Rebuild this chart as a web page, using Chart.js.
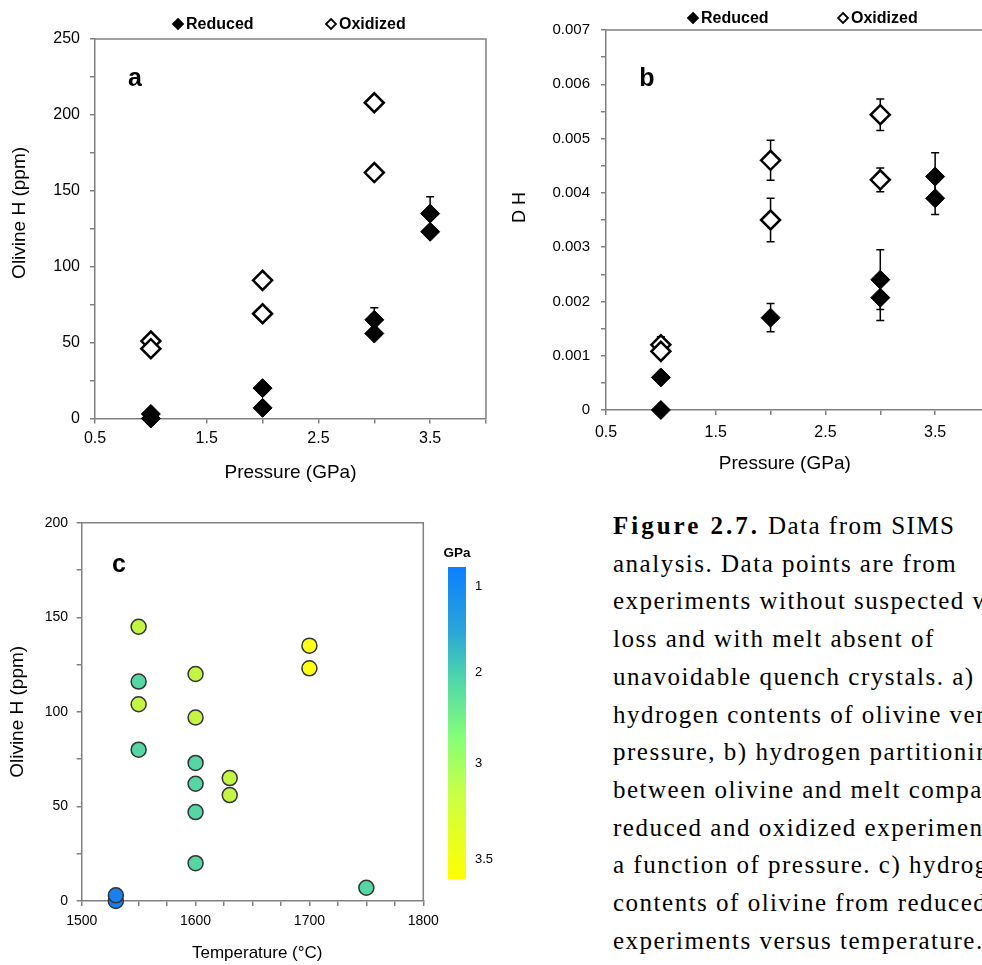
<!DOCTYPE html>
<html>
<head>
<meta charset="UTF-8">
<title>Olivine H</title>
<script src="https://cdn.jsdelivr.net/npm/chart.js@4.4.0/dist/chart.umd.min.js"></script>
<style>
	html, body {margin:0; padding:0; background:#fff; overflow:hidden;}
	body {width:982px; height:965px; position:relative;}
	canvas {position:absolute; display:block;}
	#caption {position:absolute; left:613px; top:507px; width:369px; overflow:hidden;
		font-family:'Liberation Serif', serif; font-size:25px; letter-spacing:1.5px;
		line-height:37.7px; color:#000; white-space:nowrap;}
	#caption b {letter-spacing:3px;}
</style>
</head>
<body>
	<canvas id="chartA" width="500" height="490" style="left:0;top:0"></canvas>
	<canvas id="chartB" width="520" height="490" style="left:500px;top:0"></canvas>
	<canvas id="chartC" width="600" height="475" style="left:0;top:490px"></canvas>
	<div id="caption">
		<div><b>Figure 2.7.</b> Data from SIMS</div>
		<div>analysis. Data points are from</div>
		<div>experiments without suspected water</div>
		<div>loss and with melt absent of</div>
		<div>unavoidable quench crystals. a)</div>
		<div>hydrogen contents of olivine versus</div>
		<div>pressure, b) hydrogen partitioning</div>
		<div>between olivine and melt comparing</div>
		<div>reduced and oxidized experiments as</div>
		<div>a function of pressure. c) hydrogen</div>
		<div>contents of olivine from reduced</div>
		<div>experiments versus temperature.</div>
	</div>
<script>
	// --- a) olivine H vs pressure
	const pressRedA = [1, 1, 2, 2, 3, 3, 3.5, 3.5];
	const olivRedA = [3, 0, 20, 7, 65, 56, 135, 123];
	const olivRedErrA = [0, 0, 0, 0, 8, 0, 11, 0];
	const pressOxA = [1, 1, 2, 2, 3, 3];
	const olivOxA = [51, 46, 91, 69, 208, 162];
	const olivOxErrA = [0, 0, 0, 0, 0, 0];

	// --- b) D H vs pressure
	const pressRedB = [1, 1, 2, 3, 3, 3.5, 3.5];
	const dRedB = [0.0006, 0, 0.0017, 0.0024, 0.00207, 0.0043, 0.0039];
	const dRedErrB = [0, 0, 0.00026, 0.00055, 0.00042, 0.00044, 0.0003];
	const pressOxB = [1, 1, 2, 2, 3, 3];
	const dOxB = [0.0012, 0.00108, 0.0046, 0.0035, 0.00544, 0.00424];
	const dOxErrB = [0.00015, 0.0001, 0.00037, 0.0004, 0.00029, 0.00022];

	// --- c) olivine H vs temperature, coloured by pressure
	const tempC = [1530, 1530, 1550, 1550, 1550, 1550, 1600, 1600, 1600, 1600, 1600, 1600, 1630, 1630, 1700, 1700, 1750];
	const olivC = [0, 3, 145, 116, 104, 80, 120, 97, 73, 62, 47, 20, 65, 56, 135, 123, 7];
	const gpaC = [1, 1, 3, 2, 3, 2, 3, 3, 2, 2, 2, 2, 3, 3, 3.5, 3.5, 2];
	const cbarLabels = ['1', '2', '3', '3.5'];

	const gpaColor = {1: '#1a80f0', 2: '#55d6a4', 3: '#c4f444', 3.5: '#ffff14'};
	const axisGray = '#808080';

	Chart.defaults.font.family = "'Liberation Sans', Arial, sans-serif";
	Chart.defaults.color = '#000';
	Chart.defaults.animation = false;

	function pts(xs, ys) { return xs.map((x, i) => ({x: x, y: ys[i]})); }

	// frame on top/right + error bars, drawn under the markers
	const behind = {
		id: 'behind',
		beforeDatasetsDraw(chart) {
			const c = chart.ctx, a = chart.chartArea;
			c.save();
			c.strokeStyle = axisGray;
			c.lineWidth = 1.5;
			c.beginPath();
			c.moveTo(a.left, a.top); c.lineTo(a.right, a.top); c.lineTo(a.right, a.bottom);
			c.stroke();
			c.strokeStyle = '#000';
			c.lineWidth = 1.5;
			chart.data.datasets.forEach(ds => {
				if (!ds.errorBars) return;
				ds.data.forEach((p, i) => {
					const e = ds.errorBars[i];
					if (!e) return;
					const x = chart.scales.x.getPixelForValue(p.x);
					const y1 = chart.scales.y.getPixelForValue(p.y - e);
					const y2 = chart.scales.y.getPixelForValue(p.y + e);
					c.beginPath();
					c.moveTo(x, y1); c.lineTo(x, y2);
					c.moveTo(x - 4, y1); c.lineTo(x + 4, y1);
					c.moveTo(x - 4, y2); c.lineTo(x + 4, y2);
					c.stroke();
				});
			});
			c.restore();
		}
	};

	// panel letter, small legend, colour bar
	const extras = {
		id: 'extras',
		afterDraw(chart, args, opts) {
			const c = chart.ctx;
			c.save();
			if (opts.letter) {
				c.font = 'bold 25px ' + Chart.defaults.font.family;
				c.fillStyle = '#000';
				c.textAlign = 'center';
				c.textBaseline = 'middle';
				c.fillText(opts.letter.text, opts.letter.x, opts.letter.y);
			}
			if (opts.legend) {
				c.font = 'bold 16px ' + Chart.defaults.font.family;
				c.textBaseline = 'middle';
				c.textAlign = 'left';
				chart.data.datasets.forEach((ds, i) => {
					const x = opts.legend.x[i], y = opts.legend.y;
					c.beginPath();
					c.moveTo(x, y - 5); c.lineTo(x + 5, y); c.lineTo(x, y + 5); c.lineTo(x - 5, y); c.closePath();
					c.fillStyle = ds.backgroundColor;
					c.fill();
					c.strokeStyle = '#000';
					c.lineWidth = 1.8;
					c.stroke();
					c.fillStyle = '#000';
					c.fillText(ds.label, x + 8, y + 1);
				});
			}
			if (opts.cbar) {
				const b = opts.cbar;
				const g = c.createLinearGradient(0, b.y, 0, b.y + b.h);
				b.stops.forEach(s => g.addColorStop(s[0], s[1]));
				c.fillStyle = g;
				c.fillRect(b.x, b.y, b.w, b.h);
				c.fillStyle = '#000';
				c.font = 'bold 13.5px ' + Chart.defaults.font.family;
				c.textAlign = 'center';
				c.textBaseline = 'middle';
				c.fillText('GPa', b.x + b.w / 2, b.y - 14);
				c.font = '13px ' + Chart.defaults.font.family;
				c.textAlign = 'left';
				cbarLabels.forEach((t, i) => c.fillText(t, b.x + b.w + 9, b.y + b.h * b.pos[i]));
			}
			c.restore();
		}
	};

	function xPress(padTick, titlePad, height, title) {
		return {
			type: 'linear', min: 0.5, max: 4,
			afterFit: s => { s.height = height; },
			border: {color: axisGray, width: 1.5},
			grid: {drawOnChartArea: false, tickLength: 5, color: axisGray, lineWidth: 1.5},
			ticks: {stepSize: 0.5, autoSkip: false, maxRotation: 0, padding: padTick, font: {size: 16},
				callback: v => { const k = Math.round(v * 2); return (k % 2 === 1 && v < 3.9) ? v.toFixed(1) : ''; }},
			title: {display: true, text: title, font: {size: 19}, padding: {top: 0, bottom: titlePad}}
		};
	}

	// a)
	new Chart(document.getElementById('chartA'), {
		type: 'scatter',
		data: {datasets: [
			{label: 'Reduced', data: pts(pressRedA, olivRedA), errorBars: olivRedErrA, clip: false,
				pointStyle: 'rectRot', radius: 9.5, backgroundColor: '#000', borderColor: '#000', borderWidth: 1},
			{label: 'Oxidized', data: pts(pressOxA, olivOxA), errorBars: olivOxErrA, clip: false,
				pointStyle: 'rectRot', radius: 9.5, backgroundColor: '#fff', borderColor: '#000', borderWidth: 2.5}
		]},
		options: {
			responsive: false,
			layout: {padding: {left: 0, top: 39, right: 14, bottom: 0}},
			plugins: {legend: {display: false}, tooltip: {enabled: false},
				extras: {letter: {text: 'a', x: 135, y: 79}, legend: {x: [178, 331], y: 24}}},
			scales: {
				x: xPress(5.5, 5.6, 71.5, 'Pressure (GPa)'),
				y: {
					min: 0, max: 250,
					afterFit: s => { s.width = 95; },
					border: {color: axisGray, width: 1.5},
					grid: {drawOnChartArea: false, tickLength: 5, color: axisGray, lineWidth: 1.5},
					ticks: {stepSize: 25, autoSkip: false, padding: 10, font: {size: 16},
						callback: v => Math.round(v) % 50 === 0 ? String(Math.round(v)) : ''},
					title: {display: true, text: '      Olivine H (ppm)', font: {size: 19}, padding: {top: 8.6, bottom: 0}}
				}
			}
		},
		plugins: [behind, extras]
	});

	// b)
	new Chart(document.getElementById('chartB'), {
		type: 'scatter',
		data: {datasets: [
			{label: 'Reduced', data: pts(pressRedB, dRedB), errorBars: dRedErrB, clip: false,
				pointStyle: 'rectRot', radius: 9.5, backgroundColor: '#000', borderColor: '#000', borderWidth: 1},
			{label: 'Oxidized', data: pts(pressOxB, dOxB), errorBars: dOxErrB, clip: false,
				pointStyle: 'rectRot', radius: 9.5, backgroundColor: '#fff', borderColor: '#000', borderWidth: 2.5}
		]},
		options: {
			responsive: false,
			layout: {padding: {left: 0, top: 30, right: 30, bottom: 0}},
			plugins: {legend: {display: false}, tooltip: {enabled: false},
				extras: {letter: {text: 'b', x: 147, y: 79}, legend: {x: [193, 343], y: 18}}},
			scales: {
				x: xPress(7.5, 14.6, 80, 'Pressure (GPa)     '),
				y: {
					min: 0, max: 0.007,
					afterFit: s => { s.width = 106; },
					border: {color: axisGray, width: 1.5},
					grid: {drawOnChartArea: false, tickLength: 5, color: axisGray, lineWidth: 1.5},
					ticks: {stepSize: 0.0005, autoSkip: false, padding: 11, font: {size: 15},
						callback: v => { const k = Math.round(v * 2000); return k % 2 === 0 ? (k === 0 ? '0' : (k / 2000).toFixed(3)) : ''; }},
					title: {display: true, text: '     D H', font: {size: 18}, padding: {top: 9, bottom: 0}}
				}
			}
		},
		plugins: [behind, extras]
	});

	// c)
	new Chart(document.getElementById('chartC'), {
		type: 'scatter',
		data: {datasets: [
			{label: 'Olivine H', data: pts(tempC, olivC), clip: false,
				pointStyle: 'circle', radius: 7.5, borderColor: '#333', borderWidth: 1.5,
				backgroundColor: gpaC.map(g => gpaColor[g])}
		]},
		options: {
			responsive: false,
			layout: {padding: {left: 0, top: 32.7, right: 176.7, bottom: 0}},
			plugins: {legend: {display: false}, tooltip: {enabled: false},
				extras: {letter: {text: 'c', x: 119, y: 75},
					cbar: {x: 448, y: 77, w: 18, h: 312, pos: [0.061, 0.339, 0.629, 0.938],
						stops: [[0, '#0a80ff'], [0.2, '#2aa4d8'], [0.36, '#4fd6aa'], [0.55, '#88ff78'], [0.75, '#d0ff40'], [1, '#ffff00']]}}},
			scales: {
				x: {
					type: 'linear', min: 1500, max: 1800,
					afterFit: s => { s.height = 64; },
					border: {color: axisGray, width: 1.5},
					grid: {drawOnChartArea: false, tickLength: 5, color: axisGray, lineWidth: 1.5},
					ticks: {stepSize: 25, autoSkip: false, maxRotation: 0, padding: 7, font: {size: 14},
						callback: v => Math.round(v) % 100 === 0 ? String(Math.round(v)) : ''},
					title: {display: true, text: '  Temperature (°C)', font: {size: 17}, padding: {top: 0, bottom: 1.8}}
				},
				y: {
					min: 0, max: 200,
					afterFit: s => { s.width = 81.7; },
					border: {color: axisGray, width: 1.5},
					grid: {drawOnChartArea: false, tickLength: 5, color: axisGray, lineWidth: 1.5},
					ticks: {stepSize: 25, autoSkip: false, padding: 8.7, font: {size: 14},
						callback: v => Math.round(v) % 50 === 0 ? String(Math.round(v)) : ''},
					title: {display: true, text: 'Olivine H (ppm)', font: {size: 19}, padding: {top: 6.6, bottom: 0}}
				}
			}
		},
		plugins: [behind, extras]
	});
</script>
</body>
</html>
